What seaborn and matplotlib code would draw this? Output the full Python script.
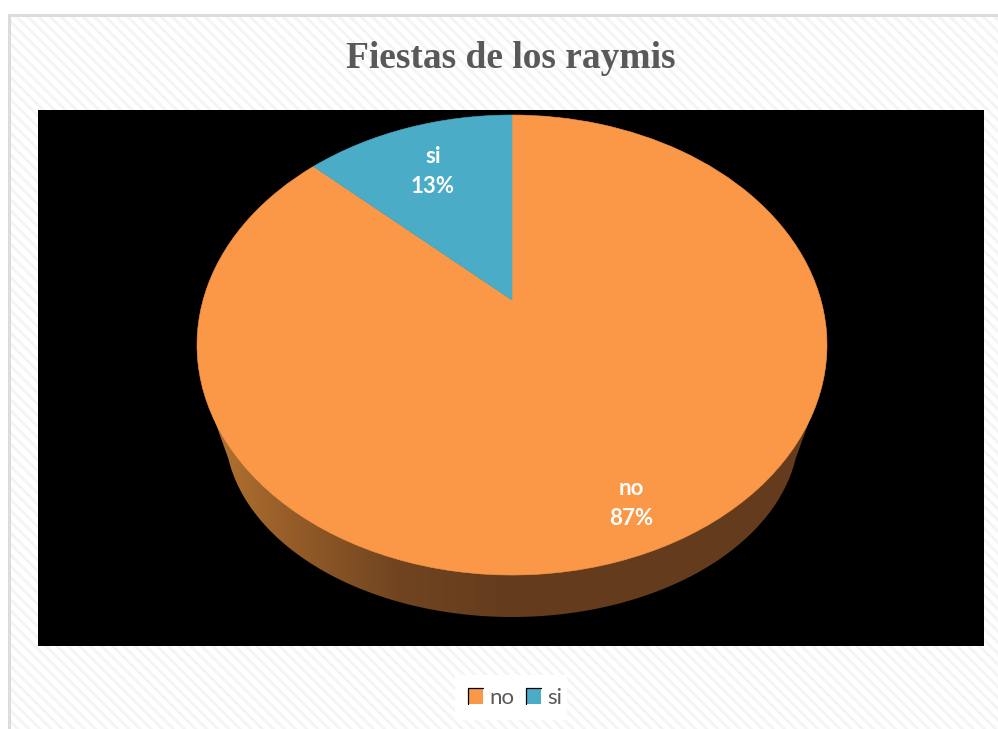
import matplotlib
matplotlib.use('Agg')
import matplotlib.pyplot as plt
import matplotlib.transforms as mtransforms
from matplotlib.patches import Patch, Polygon, Rectangle
import numpy as np
import seaborn as sns

categories = ['no', 'si']
percentages = [87, 13]
title = 'Fiestas de los raymis'

sns.set_theme(style='white')
plt.rcParams['font.family'] = ['Lato', 'DejaVu Sans']
plt.rcParams['hatch.linewidth'] = 2.0
colors = sns.color_palette(['#FA9847', '#4AACC6'])


# tilts the flat pie the way the 3D view does, unit circle -> figure pixels
class Tilt(mtransforms.Transform):
    input_dims = 2
    output_dims = 2

    def transform_non_affine(self, xy):
        xy = np.asarray(xy, dtype=float)
        d = 1 + 0.1957 * xy[:, 1]
        return np.column_stack([512 + 308.9 * xy[:, 0] / d, 300 - 221.2 * xy[:, 1] / d])


fig = plt.figure(figsize=(9.98, 7.29), dpi=100, facecolor='white')
ax = fig.add_axes([0, 0, 1, 1])

wedges, _ = ax.pie(percentages, colors=colors, startangle=90, counterclock=False,
                   wedgeprops={'linewidth': 0.4})
ax.set_aspect('auto')
ax.set_xlim(0, 998)
ax.set_ylim(729, 0)
ax.axis('off')
for w, c in zip(wedges, colors):
    w.set_transform(Tilt() + ax.transData)
    w.set_edgecolor(c)
    w.set_zorder(5)

# chart area background
ax.add_patch(Rectangle((9, 15), 1000, 720, facecolor='white', edgecolor='#F4F4F4', hatch='\\\\\\', lw=0, zorder=0))
ax.plot([9, 9, 998], [729, 15, 15], color='#DCDCDC', lw=2.2, zorder=1, solid_joinstyle='miter')
ax.add_patch(Rectangle((38, 110), 946, 536, facecolor='black', edgecolor='none', zorder=1))

# side of the pie
t = np.linspace(np.radians(9), np.radians(171), 200)
rim = np.column_stack([512 + 287 * np.cos(t), 430 + 187 * np.sin(t)])
rim = np.vstack([[822, 385], rim, [202, 385]])
clip = Polygon(rim, transform=ax.transData, facecolor='none', edgecolor='none')
ax.add_patch(clip)
grad_x = np.arange(190, 840)
grad = np.column_stack([
    np.interp(grad_x, [215, 300, 400, 512, 840], [c0, c1, c2, c3, c3])
    for c0, c1, c2, c3 in zip((178, 114, 48), (146, 90, 40), (112, 68, 32), (100, 60, 29))
]) / 255
img = ax.imshow(grad[np.newaxis, :, :], extent=(190, 840, 620, 380), aspect='auto', zorder=2)
img.set_clip_path(clip)
ax.set_xlim(0, 998)
ax.set_ylim(729, 0)

# data labels
label_pos = [(631, 503.5), (433, 171.5)]
for cat, pct, pos in zip(categories, percentages, label_pos):
    ax.text(pos[0], pos[1], f'{cat}\n{pct}%', color='white', fontsize=16, fontweight='bold',
            ha='center', va='center', linespacing=1.55, zorder=6)

ax.text(511, 58, title, family='Liberation Serif', fontweight='bold', fontsize=27, color='#595959',
        ha='center', va='center', zorder=6)

# legend
ax.add_patch(Rectangle((455, 675), 112, 45, facecolor='white', edgecolor='none', zorder=3))
handles = [Patch(facecolor=c, edgecolor='none', label=cat) for c, cat in zip(colors, categories)]
leg = ax.legend(handles=handles, ncols=2, loc='center', bbox_to_anchor=(515, 697.5),
                bbox_transform=ax.transData, frameon=False, fontsize=16, labelcolor='#595959',
                handlelength=0.68, handleheight=0.72, handletextpad=0.3, columnspacing=0.5,
                borderpad=0, borderaxespad=0)
fig.canvas.draw()
# swatches have a thin dark edge top and left
for p in leg.get_patches():
    (x0, y0), (x1, y1) = ax.transData.inverted().transform(p.get_window_extent().get_points())
    ax.plot([x0, x0, x1], [y0, y1, y1], color='black', lw=0.9, zorder=10, clip_on=False)

fig.savefig('out.png', dpi=100)
